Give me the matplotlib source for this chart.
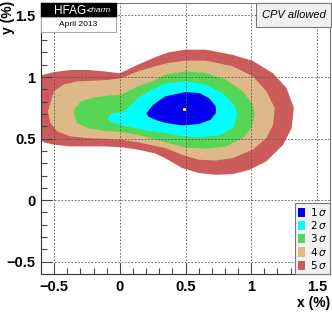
import matplotlib
matplotlib.use("Agg")
import matplotlib.pyplot as plt
from matplotlib.patches import Polygon, Patch
from matplotlib.ticker import MultipleLocator

plt.rcParams["font.family"] = ["Liberation Sans", "DejaVu Sans"]

# contour outlines (x %, y %), outermost first
sigma5_x = [-0.62, -0.60, -0.50, -0.375, -0.246, -0.118, 0.0, 0.138, 0.267, 0.369, 0.50, 0.654,
            0.859, 1.013, 1.167, 1.269, 1.325, 1.308, 1.244, 1.115, 0.987, 0.859, 0.731, 0.60,
            0.475, 0.346, 0.267, 0.138, 0.01, -0.118, -0.246, -0.375, -0.502, -0.579, -0.62]
sigma5_y = [1.01, 1.014, 1.04, 1.057, 1.057, 1.046, 1.03, 1.10, 1.16, 1.20, 1.222, 1.222,
            1.18, 1.13, 1.03, 0.91, 0.75, 0.585, 0.45, 0.315, 0.246, 0.211, 0.206, 0.22,
            0.26, 0.34, 0.38, 0.41, 0.43, 0.436, 0.436, 0.436, 0.45, 0.47, 0.50]

sigma4_x = [-0.548, -0.502, -0.425, -0.323, -0.195, -0.092, 0.01, 0.138, 0.267, 0.369, 0.50,
            0.654, 0.859, 1.013, 1.115, 1.179, 1.167, 1.115, 1.013, 0.859, 0.731, 0.60, 0.475,
            0.346, 0.138, 0.01, -0.118, -0.246, -0.375, -0.477, -0.528]
sigma4_y = [0.72, 0.884, 0.94, 0.965, 0.97, 0.976, 0.99, 1.046, 1.087, 1.114, 1.133,
            1.133, 1.087, 1.006, 0.884, 0.748, 0.612, 0.504, 0.41, 0.341, 0.322, 0.328, 0.368,
            0.423, 0.47, 0.49, 0.498, 0.504, 0.518, 0.558, 0.626]

sigma3_x = [-0.349, -0.298, -0.195, -0.092, 0.01, 0.138, 0.267, 0.346, 0.50, 0.654, 0.808,
            0.936, 1.013, 1.025, 1.0, 0.936, 0.808, 0.654, 0.50, 0.346, 0.138, 0.01, -0.118,
            -0.246, -0.323, -0.349]
sigma3_y = [0.734, 0.80, 0.835, 0.848, 0.856, 0.924, 0.973, 1.019, 1.046, 1.033, 0.978,
            0.884, 0.775, 0.694, 0.585, 0.504, 0.436, 0.417, 0.428, 0.47, 0.531, 0.553, 0.563,
            0.585, 0.626, 0.694]

sigma2_x = [-0.092, -0.054, 0.023, 0.048, 0.138, 0.241, 0.346, 0.50, 0.654, 0.782,
            0.872, 0.898, 0.859, 0.756, 0.603, 0.475, 0.346, 0.215, 0.087, -0.023,
            -0.079]
sigma2_y = [0.667, 0.707, 0.715, 0.734, 0.829, 0.897, 0.947, 0.965, 0.938, 0.87,
            0.775, 0.694, 0.585, 0.526, 0.51, 0.518, 0.545, 0.563, 0.591, 0.618,
            0.64]

sigma1_x = [0.203, 0.254, 0.346, 0.50, 0.603, 0.679, 0.731, 0.731, 0.692, 0.603,
            0.475, 0.346, 0.267, 0.215]
sigma1_y = [0.707, 0.775, 0.843, 0.878, 0.87, 0.829, 0.762, 0.707, 0.653, 0.618,
            0.607, 0.628, 0.653, 0.68]

best_x, best_y = 0.487, 0.742

levels = ["5", "4", "3", "2", "1"]
colors = ["#cc5c5c", "#deb887", "#55d655", "#00ffff", "#0000ee"]
outlines = [(sigma5_x, sigma5_y), (sigma4_x, sigma4_y), (sigma3_x, sigma3_y),
            (sigma2_x, sigma2_y), (sigma1_x, sigma1_y)]

fig = plt.figure(figsize=(3.32, 3.13), dpi=100)
ax = fig.add_axes([0.1235, 0.1246, 0.8705, 0.8654])

for (xs, ys), c in zip(outlines, colors):
    ax.add_patch(Polygon(list(zip(xs, ys)), closed=True, facecolor=c, edgecolor="none", zorder=1))
ax.plot([best_x], [best_y], marker="s", ms=1.2, color="yellow", zorder=2)

ax.set_xlim(-0.6, 1.6)
ax.set_ylim(-0.6, 1.6)
ax.xaxis.set_major_locator(MultipleLocator(0.5))
ax.yaxis.set_major_locator(MultipleLocator(0.5))
ax.xaxis.set_minor_locator(MultipleLocator(0.1))
ax.yaxis.set_minor_locator(MultipleLocator(0.1))
ax.tick_params(which="both", direction="in", top=False, right=False, color="#444444",
               labelsize=10.5, width=0.8)
ax.tick_params(which="major", length=8, pad=4)
ax.tick_params(which="minor", length=4)
ax.xaxis.set_major_formatter(plt.FuncFormatter(lambda v, p: f"{v:g}".replace("-", "\u2212")))
ax.yaxis.set_major_formatter(plt.FuncFormatter(lambda v, p: f"{v:g}".replace("-", "\u2212")))
for lab in ax.get_xticklabels() + ax.get_yticklabels():
    lab.set_fontweight("bold")
ax.grid(True, which="major", color="#555555", linestyle=(0, (2, 2)), linewidth=0.6)
ax.set_axisbelow(False)
for s in ax.spines.values():
    s.set_color("#777777")
    s.set_linewidth(0.8)
ax.spines["left"].set_color("#333333")
ax.spines["bottom"].set_color("#333333")

fig.text(0.995, 0.008, "x (%)", ha="right", va="bottom", fontsize=10, fontweight="bold")
fig.text(0.003, 0.998, "y (%)", ha="left", va="top", rotation=90, fontsize=10, fontweight="bold")

# HFAG label boxes
fig.patches.append(plt.Rectangle((41 / 332, 1 - 17 / 313), 75 / 332, 14 / 313,
                                 transform=fig.transFigure, facecolor="black", edgecolor="black",
                                 zorder=5))
fig.patches.append(plt.Rectangle((41 / 332, 1 - 32 / 313), 75 / 332, 15 / 313,
                                 transform=fig.transFigure, facecolor="white", edgecolor="#aaaaaa",
                                 linewidth=0.8, zorder=5))
fig.text(54 / 332, 1 - 10.5 / 313, "HFAG-", color="white", fontsize=8.5, va="center", ha="left",
         zorder=6)
fig.text(88 / 332, 1 - 11 / 313, "charm", color="white", fontsize=6, style="italic",
         va="center", ha="left", zorder=6)
fig.text(78.5 / 332, 1 - 24.5 / 313, "April 2013", color="black", fontsize=6, va="center",
         ha="center", zorder=6)

# CPV allowed box
fig.patches.append(plt.Rectangle((256 / 332, 1 - 27 / 313), 75 / 332, 24 / 313,
                                 transform=fig.transFigure, facecolor="#f0f0f0",
                                 edgecolor="#777777", linewidth=0.8, zorder=5))
fig.text(293.5 / 332, 1 - 15 / 313, "CPV allowed", fontsize=8, style="italic", va="center",
         ha="center", zorder=6)

handles = [Patch(facecolor=c, edgecolor="none") for c in colors[::-1]]
labels = [f"${n}\\,\\sigma$" for n in levels[::-1]]
leg = ax.legend(handles, labels, loc="lower right", frameon=True, fancybox=False,
                borderaxespad=0, fontsize=7.5, handlelength=0.6, handleheight=1.0,
                handletextpad=0.5, labelspacing=0.12, borderpad=0.3)
leg.get_frame().set_facecolor("#f2f2f2")
leg.get_frame().set_edgecolor("#777777")
leg.get_frame().set_linewidth(0.8)
leg.get_frame().set_alpha(1)
for t in leg.get_texts():
    t.set_fontstyle("italic")

fig.savefig("out.png", dpi=100)
